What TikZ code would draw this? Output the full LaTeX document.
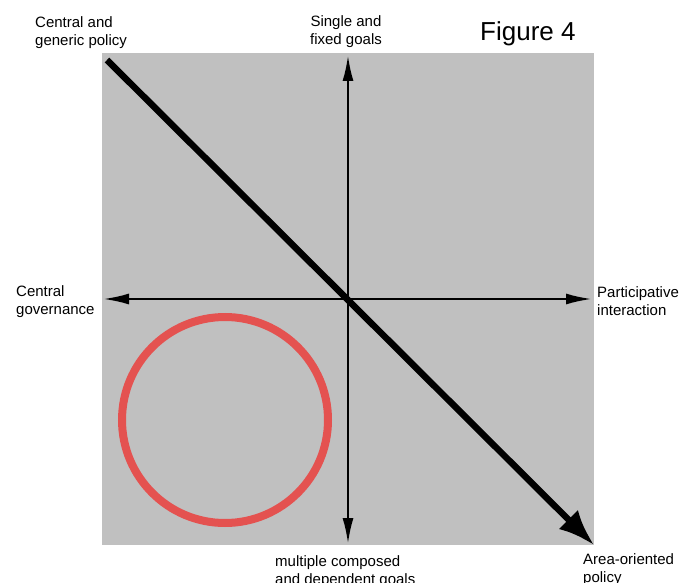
\documentclass[tikz,border=0pt]{standalone}
\usepackage{fontspec}
\setmainfont{Liberation Sans}
\usetikzlibrary{arrows.meta,positioning}
\definecolor{panelgray}{RGB}{192,192,192}
\definecolor{ringred}{RGB}{228,82,80}

\begin{document}
\begin{tikzpicture}[
  x=1pt,y=-1pt,
  axis/.style={{Latex[length=26pt,width=11pt]}-{Latex[length=26pt,width=11pt]},line width=2.5pt,black},
  trend/.style={-{Latex[length=36pt,width=27pt]},line width=6.5pt,black},
  label/.style={inner sep=0pt,align=left,font=\fontsize{15}{18.5}\selectfont}
]
\useasboundingbox (0,0) rectangle (683,583);
\fill[panelgray] (102,53) rectangle (594,545);
% axes
\coordinate (ytop) at (348,55);
\coordinate (ybot) at (348,544);
\coordinate (xleft) at (103,299);
\coordinate (xright) at (592,299);
\coordinate (nw) at (107,60);
\coordinate (se) at (594,545);
\draw[axis] (ybot) -- (ytop);
\draw[axis] (xleft) -- (xright);
\draw[trend] (nw) -- (se);
% ring
\draw[ringred,line width=8pt] (225,420) circle[radius=103pt];
% labels
\node[label,anchor=north west] (generic) at (35,16) {Central and\\generic policy};
\node[label,anchor=north,align=center] (single) at (346,15) {Single and\\fixed goals};
\node[label,anchor=north west,font=\fontsize{26}{30}\selectfont] (fig) at (480,21) {Figure 4};
\node[label,anchor=north west] (central) at (16,285) {Central\\governance};
\node[label,anchor=north west] (partic) at (597,286) {Participative\\interaction};
\node[label,anchor=north west] (multiple) at (275,555) {multiple composed\\and dependent goals};
\node[label,anchor=north west] (area) at (583,553) {Area-oriented\\policy};
\end{tikzpicture}
\end{document}
